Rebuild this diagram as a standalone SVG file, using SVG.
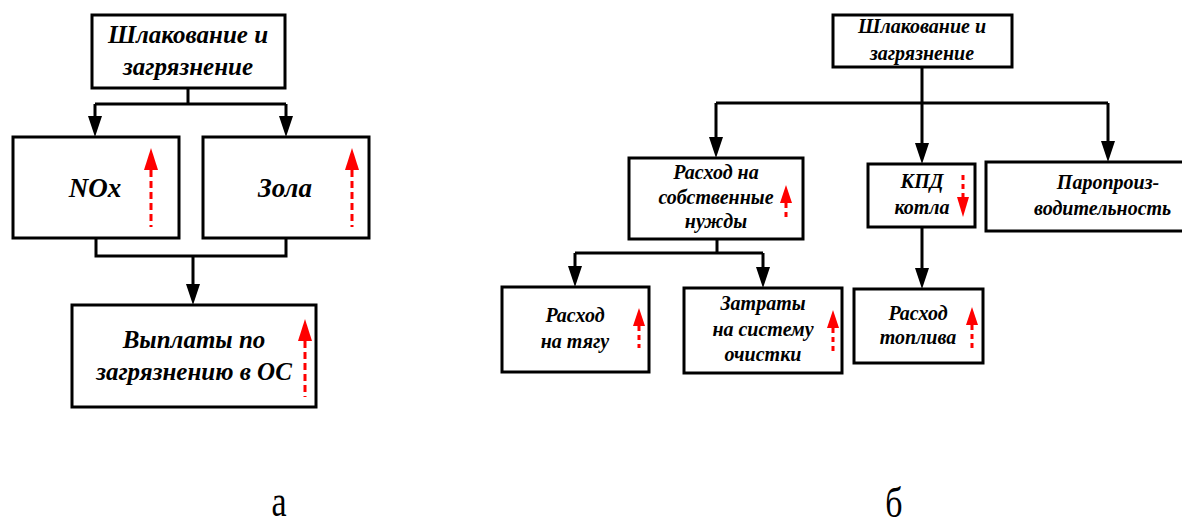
<svg xmlns="http://www.w3.org/2000/svg" width="1182" height="524" viewBox="0 0 1182 524">
<defs>
<path id="bh" d="M-7,-21 L7,-21 L0,0 Z" fill="#000"/>
<path id="rhL" d="M0,0 L-7,22 L7,22 Z" fill="#f00"/>
<path id="rhS" d="M0,0 L-6,18 L6,18 Z" fill="#f00"/>
</defs>
<rect width="1182" height="524" fill="#fff"/>

<g id="connectors" fill="none" stroke="#000" stroke-width="3">
<path d="M188,88 V104 M95,104 H286"/>
<path d="M96,238 V256 H286 V238"/>
<path d="M922,67 V103 M716,103 H1108"/>
<path d="M717,239 V253 M575,253 H763"/>
<path d="M95,104 V120 M286,104 V120 M193,256 V288 M716,103 V142 M922,103 V148 M1108,103 V146 M575,253 V271 M763,253 V272 M922,227 V272"/>
<g stroke="none">
<use href="#bh" x="95" y="137"/>
<use href="#bh" x="286" y="137"/>
<use href="#bh" x="193" y="305"/>
<use href="#bh" x="716" y="158"/>
<use href="#bh" x="922" y="164"/>
<use href="#bh" x="1108" y="162"/>
<use href="#bh" x="575" y="287"/>
<use href="#bh" x="763" y="288"/>
<use href="#bh" x="922" y="289"/>
</g>
</g>

<g id="n-top-a">
<rect x="92" y="15" width="193" height="73" fill="#fff" stroke="#000" stroke-width="3"/>
<text x="188" y="43" font-family="Liberation Serif" font-size="25" font-weight="bold" font-style="italic" text-anchor="middle">Шлакование и</text>
<text x="188" y="75" font-family="Liberation Serif" font-size="25" font-weight="bold" font-style="italic" text-anchor="middle">загрязнение</text>
</g>
<g id="n-nox">
<rect x="13" y="137" width="166" height="101" fill="#fff" stroke="#000" stroke-width="3"/>
<text x="95" y="197" font-family="Liberation Serif" font-size="27" font-weight="bold" font-style="italic" text-anchor="middle">NOx</text>
<use href="#rhL" x="151" y="148"/>
<line x1="151" y1="170" x2="151" y2="227" stroke="#f00" stroke-width="3" stroke-dasharray="7 4"/>
</g>
<g id="n-zola">
<rect x="203" y="137" width="166" height="101" fill="#fff" stroke="#000" stroke-width="3"/>
<text x="285" y="197" font-family="Liberation Serif" font-size="27" font-weight="bold" font-style="italic" text-anchor="middle">Зола</text>
<use href="#rhL" x="352" y="148"/>
<line x1="352" y1="170" x2="352" y2="227" stroke="#f00" stroke-width="3" stroke-dasharray="7 4"/>
</g>
<g id="n-pay">
<rect x="72" y="305" width="244" height="102" fill="#fff" stroke="#000" stroke-width="3"/>
<text x="194" y="348" font-family="Liberation Serif" font-size="25" font-weight="bold" font-style="italic" text-anchor="middle">Выплаты по</text>
<text x="194" y="380" font-family="Liberation Serif" font-size="25" font-weight="bold" font-style="italic" text-anchor="middle">загрязнению в ОС</text>
<use href="#rhL" x="305" y="319"/>
<line x1="305" y1="341" x2="305" y2="397" stroke="#f00" stroke-width="3" stroke-dasharray="7 4"/>
</g>

<g id="n-top-b">
<rect x="833" y="15" width="179" height="52" fill="#fff" stroke="#000" stroke-width="3"/>
<text x="922" y="33" font-family="Liberation Serif" font-size="20" font-weight="bold" font-style="italic" text-anchor="middle">Шлакование и</text>
<text x="922" y="60" font-family="Liberation Serif" font-size="20" font-weight="bold" font-style="italic" text-anchor="middle">загрязнение</text>
</g>
<g id="n-own">
<rect x="629" y="158" width="174" height="81" fill="#fff" stroke="#000" stroke-width="3"/>
<text x="716" y="179" font-family="Liberation Serif" font-size="20" font-weight="bold" font-style="italic" text-anchor="middle">Расход на</text>
<text x="716" y="204" font-family="Liberation Serif" font-size="20" font-weight="bold" font-style="italic" text-anchor="middle">собственные</text>
<text x="716" y="228" font-family="Liberation Serif" font-size="20" font-weight="bold" font-style="italic" text-anchor="middle">нужды</text>
<use href="#rhS" x="786" y="185"/>
<line x1="786" y1="203" x2="786" y2="220" stroke="#f00" stroke-width="3" stroke-dasharray="5 4"/>
</g>
<g id="n-kpd">
<rect x="868" y="164" width="107" height="63" fill="#fff" stroke="#000" stroke-width="3"/>
<text x="922" y="188" font-family="Liberation Serif" font-size="20" font-weight="bold" font-style="italic" text-anchor="middle">КПД</text>
<text x="922" y="214" font-family="Liberation Serif" font-size="20" font-weight="bold" font-style="italic" text-anchor="middle">котла</text>
<line x1="963" y1="175" x2="963" y2="198" stroke="#f00" stroke-width="3" stroke-dasharray="5 4"/>
<path d="M957,197 L969,197 L963,217 Z" fill="#f00"/>
</g>
<g id="n-steam">
<rect x="986" y="162" width="210" height="69" fill="#fff" stroke="#000" stroke-width="3"/>
<text x="1108" y="189" font-family="Liberation Serif" font-size="20" font-weight="bold" font-style="italic" text-anchor="middle">Паропроиз-</text>
<text x="1034" y="215" font-family="Liberation Serif" font-size="20" font-weight="bold" font-style="italic">водительность</text>
</g>
<g id="n-draft">
<rect x="502" y="287" width="147" height="85" fill="#fff" stroke="#000" stroke-width="3"/>
<text x="575" y="322" font-family="Liberation Serif" font-size="20" font-weight="bold" font-style="italic" text-anchor="middle">Расход</text>
<text x="575" y="348" font-family="Liberation Serif" font-size="20" font-weight="bold" font-style="italic" text-anchor="middle">на тягу</text>
<use href="#rhS" x="639" y="308"/>
<line x1="639" y1="326" x2="639" y2="348" stroke="#f00" stroke-width="3" stroke-dasharray="5 4"/>
</g>
<g id="n-clean">
<rect x="684" y="288" width="158" height="85" fill="#fff" stroke="#000" stroke-width="3"/>
<text x="763" y="310" font-family="Liberation Serif" font-size="20" font-weight="bold" font-style="italic" text-anchor="middle">Затраты</text>
<text x="763" y="336" font-family="Liberation Serif" font-size="20" font-weight="bold" font-style="italic" text-anchor="middle">на систему</text>
<text x="763" y="361" font-family="Liberation Serif" font-size="20" font-weight="bold" font-style="italic" text-anchor="middle">очистки</text>
<use href="#rhS" x="833" y="310"/>
<line x1="833" y1="328" x2="833" y2="352" stroke="#f00" stroke-width="3" stroke-dasharray="5 4"/>
</g>
<g id="n-fuel">
<rect x="854" y="289" width="129" height="74" fill="#fff" stroke="#000" stroke-width="3"/>
<text x="918" y="320" font-family="Liberation Serif" font-size="20" font-weight="bold" font-style="italic" text-anchor="middle">Расход</text>
<text x="918" y="344" font-family="Liberation Serif" font-size="20" font-weight="bold" font-style="italic" text-anchor="middle">топлива</text>
<use href="#rhS" x="972" y="307"/>
<line x1="972" y1="325" x2="972" y2="348" stroke="#f00" stroke-width="3" stroke-dasharray="5 4"/>
</g>

<g id="captions">
<text x="0" y="0" font-family="Liberation Serif" font-size="34" text-anchor="middle" transform="translate(279,516) scale(1,1.33)">а</text>
<text x="0" y="0" font-family="Liberation Serif" font-size="34" text-anchor="middle" transform="translate(894,517) scale(1,1.22)">б</text>
</g>
</svg>
